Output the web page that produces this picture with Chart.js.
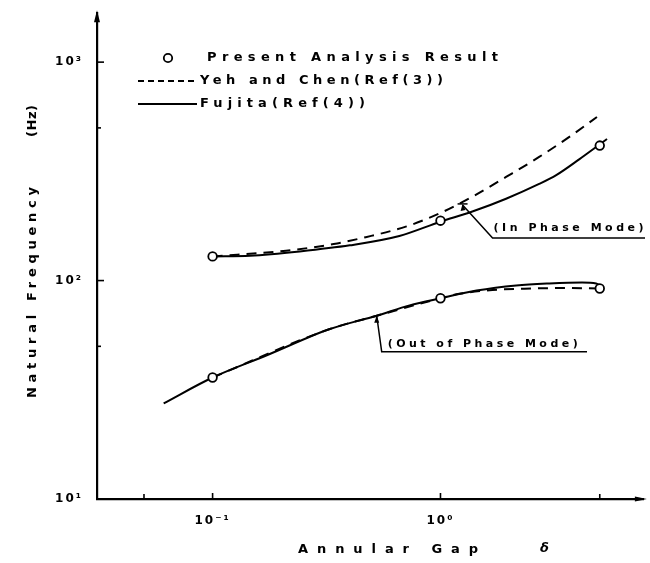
<!DOCTYPE html>
<html><head><meta charset="utf-8">
<script src="https://cdn.jsdelivr.net/npm/chart.js@4.4.1/dist/chart.umd.min.js"></script>
<style>html,body{margin:0;padding:0;background:#fff}#wrap{width:650px;height:563px;position:relative}</style>
</head><body><div id="wrap"><canvas id="c"></canvas></div>
<script>
// ---- axis ticks ----
const xTickValues = [0.05, 0.1, 1, 5];
const xTickLabels = ['', '10⁻¹', '10⁰', ''];
const yTickValues = [10, 50, 100, 500, 1000];
const yTickLabels = ['10¹', '', '10²', '', '10³'];

// ---- series ----
const presentX = [0.1, 1, 5];
const presentInPhase = [129, 188, 415];
const presentOutPhase = [36, 83, 92];

const yehInX = [0.1, 0.21, 0.34, 0.47, 0.71, 1.0, 1.38, 1.94, 2.71, 3.78, 4.86];
const yehInY = [129, 137, 147, 158, 177, 204, 242, 298, 368, 464, 561];
const yehOutX = [0.1, 0.327, 0.525, 1.0, 1.21, 1.69, 2.53, 3.56, 5];
const yehOutY = [36, 60, 69, 83, 87, 90.5, 92, 92.5, 92];

const fujitaInX = [0.1, 0.146, 0.241, 0.40, 0.66, 1.0, 1.38, 1.94, 2.71, 3.22, 4.06, 4.96, 5.38];
const fujitaInY = [129, 130, 136, 145, 160, 186, 207, 237, 277, 304, 359, 418, 445];
const fujitaOutX = [0.061, 0.1, 0.173, 0.327, 0.525, 0.732, 1.0, 1.44, 2.15, 3.0, 4.18, 4.82, 5.0];
const fujitaOutY = [27.4, 36, 45.5, 60, 69, 77, 83, 90, 95, 97, 98, 97, 95];

const seriesLabels = ['Present Analysis Result', 'Yeh and Chen(Ref(3))', 'Fujita(Ref(4))'];
const annotationTexts = ['(In Phase Mode)', '(Out of Phase Mode)'];
const axisTitles = ['Natural Frequency', '(Hz)', 'Annular Gap', 'δ'];

const pts = (xs, ys) => xs.map((x, i) => ({x, y: ys[i]}));
const gap = (xs) => ({x: xs[xs.length - 1], y: null});

const FONT = '"DejaVu Sans", "Liberation Sans", sans-serif';

function spaced(ctx, str, x, y, w) {
  ctx.letterSpacing = '0px';
  const nat = ctx.measureText(str).width;
  const n = [...str].length;
  const sp = n > 1 ? (w - nat) / (n - 1) : 0;
  if ('letterSpacing' in ctx) {
    ctx.letterSpacing = sp + 'px';
    ctx.fillText(str, x, y);
    ctx.letterSpacing = '0px';
  } else {
    let cx = x;
    for (const ch of str) { ctx.fillText(ch, cx, y); cx += ctx.measureText(ch).width + sp; }
  }
}

const decor = {
  id: 'decor',
  beforeDraw(chart) { chart.ctx.letterSpacing = '2px'; },
  afterDraw(chart) {
    const ctx = chart.ctx, xs = chart.scales.x, ys = chart.scales.y, ca = chart.chartArea;
    ctx.save();
    ctx.letterSpacing = '0px';
    ctx.strokeStyle = '#000'; ctx.fillStyle = '#000'; ctx.lineWidth = 1.6;
    // inward tick marks
    ys.ticks.forEach(t => {
      if (t.value <= ys.min) return;
      const py = ys.getPixelForValue(t.value);
      const len = Math.abs(Math.log10(t.value) % 1) < 1e-6 ? 7 : 4;
      ctx.beginPath(); ctx.moveTo(ca.left, py); ctx.lineTo(ca.left + len, py); ctx.stroke();
    });
    xs.ticks.forEach(t => {
      const px = xs.getPixelForValue(t.value);
      const len = Math.abs(Math.log10(t.value) % 1) < 1e-6 ? 6 : 5;
      ctx.beginPath(); ctx.moveTo(px, ca.bottom); ctx.lineTo(px, ca.bottom - len); ctx.stroke();
    });
    // axis arrows
    ctx.beginPath(); ctx.moveTo(ca.left, ca.top - 3); ctx.lineTo(ca.left - 3, ca.top + 9); ctx.lineTo(ca.left + 3, ca.top + 9); ctx.closePath(); ctx.fill();
    ctx.beginPath(); ctx.moveTo(ca.right + 3, ca.bottom); ctx.lineTo(ca.right - 9, ca.bottom - 2.5); ctx.lineTo(ca.right - 9, ca.bottom + 2.5); ctx.closePath(); ctx.fill();

    // legend
    const ds = chart.data.datasets;
    ctx.font = 'bold 13px ' + FONT; ctx.textBaseline = 'middle'; ctx.textAlign = 'left';
    ctx.lineWidth = 1.8;
    ctx.beginPath(); ctx.arc(168, 58, 4.2, 0, Math.PI * 2); ctx.fillStyle = '#fff'; ctx.fill(); ctx.stroke();
    ctx.fillStyle = '#000';
    spaced(ctx, ds[0].label, 207, 58, 291);
    ctx.lineWidth = 1.8;
    ctx.setLineDash([6, 4]);
    ctx.beginPath(); ctx.moveTo(138, 81); ctx.lineTo(197, 81); ctx.stroke();
    ctx.setLineDash([]);
    spaced(ctx, ds[1].label, 200, 81, 243);
    ctx.beginPath(); ctx.moveTo(138, 104); ctx.lineTo(197, 104); ctx.stroke();
    spaced(ctx, ds[2].label, 200, 104, 165);

    // annotation: in phase
    ctx.lineWidth = 1.5;
    const ax = xs.getPixelForValue(1.25), ay = ys.getPixelForValue(222);
    ctx.beginPath(); ctx.moveTo(ax, ay); ctx.lineTo(ax + 30, ay + 33); ctx.lineTo(645, ay + 33); ctx.stroke();
    ctx.beginPath(); ctx.moveTo(ax - 5, ay - 1); ctx.lineTo(ax + 5, ay - 1); ctx.stroke();
    ctx.beginPath(); ctx.moveTo(ax, ay - 1); ctx.lineTo(ax - 2, ay + 6); ctx.lineTo(ax + 3, ay + 5); ctx.closePath(); ctx.fill();
    ctx.font = 'bold 11px ' + FONT;
    spaced(ctx, annotationTexts[0], ax + 31, ay + 23, 150);
    // annotation: out of phase
    const bx = xs.getPixelForValue(0.525), by = ys.getPixelForValue(69);
    ctx.beginPath(); ctx.moveTo(bx, by); ctx.lineTo(bx + 5, by + 36); ctx.lineTo(587, by + 36); ctx.stroke();
    ctx.beginPath(); ctx.moveTo(bx, by); ctx.lineTo(bx - 2.5, by + 7); ctx.lineTo(bx + 2.5, by + 7); ctx.closePath(); ctx.fill();
    spaced(ctx, annotationTexts[1], bx + 11, by + 28, 190);

    // axis titles
    ctx.font = 'bold 13px ' + FONT;
    ctx.save();
    ctx.translate(33, 398); ctx.rotate(-Math.PI / 2);
    spaced(ctx, axisTitles[0], 0, 0, 211);
    spaced(ctx, axisTitles[1], 261, 0, 32);
    ctx.restore();
    spaced(ctx, axisTitles[2], 298, 550, 180);
    ctx.font = 'italic bold 13px ' + FONT;
    ctx.fillText(axisTitles[3], 540, 549);
    ctx.restore();
    ctx.letterSpacing = '0px';
  }
};

const lineDs = (label, data, dash) => ({
  label, data, borderColor: '#000', borderWidth: 2, borderDash: dash, pointRadius: 0,
  cubicInterpolationMode: 'monotone', spanGaps: false, fill: false
});

new Chart(document.getElementById('c'), {
  type: 'line',
  data: {
    datasets: [
      { label: seriesLabels[0], data: [...pts(presentX, presentInPhase), ...pts(presentX, presentOutPhase)],
        showLine: false, pointRadius: 4.3, pointBackgroundColor: '#fff', pointBorderColor: '#000',
        pointBorderWidth: 1.8, borderColor: '#000', backgroundColor: '#fff' },
      lineDs(seriesLabels[1], [...pts(yehInX, yehInY), gap(yehInX), ...pts(yehOutX, yehOutY)], [10, 7]),
      lineDs(seriesLabels[2], [...pts(fujitaInX, fujitaInY), gap(fujitaInX), ...pts(fujitaOutX, fujitaOutY)], [])
    ]
  },
  options: {
    responsive: true, maintainAspectRatio: false, animation: false, devicePixelRatio: 1,
    layout: { padding: { top: 12, right: 5, left: 0, bottom: 0 } },
    plugins: { legend: { display: false }, tooltip: { enabled: false } },
    scales: {
      x: {
        type: 'logarithmic', min: 0.0311, max: 7.81, bounds: 'data',
        grid: { display: false }, border: { display: true, color: '#000', width: 2.2 },
        ticks: { autoSkip: false, maxRotation: 0, padding: 7, color: '#000',
          font: { family: FONT, size: 12, weight: 'bold' },
          callback: (v) => { const i = xTickValues.indexOf(v); return i >= 0 ? xTickLabels[i] : ''; } },
        afterBuildTicks: (s) => { s.ticks = xTickValues.map(v => ({ value: v })); },
        afterFit: (s) => { s.height = 64; }
      },
      y: {
        type: 'logarithmic', min: 10, max: 1675, bounds: 'data',
        grid: { display: false }, border: { display: true, color: '#000', width: 2.2 },
        ticks: { autoSkip: false, padding: 6, color: '#000',
          font: { family: FONT, size: 12, weight: 'bold' },
          callback: (v) => { const i = yTickValues.indexOf(v); return i >= 0 ? yTickLabels[i] : ''; } },
        afterBuildTicks: (s) => { s.ticks = yTickValues.map(v => ({ value: v })); },
        afterFit: (s) => { s.width = 97; }
      }
    }
  },
  plugins: [decor]
});
</script></body></html>
